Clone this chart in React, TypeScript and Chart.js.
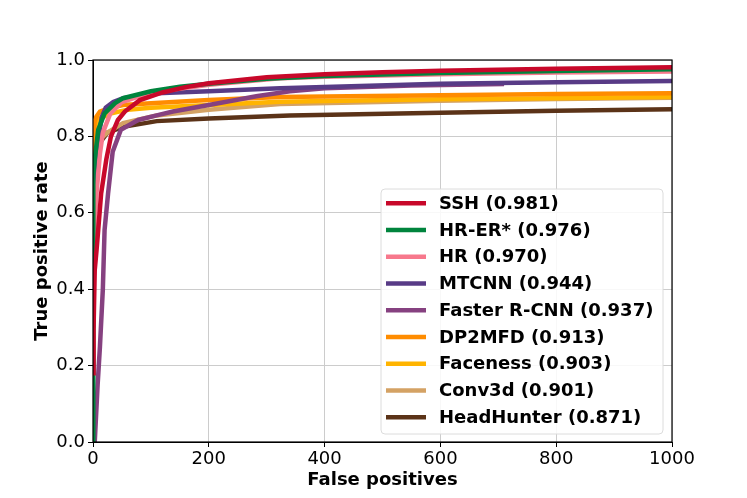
import React, { useEffect, useRef } from "react";
import { Chart, registerables } from "chart.js";
Chart.register(...registerables);

const seriesNames = ["SSH", "HR-ER*", "HR", "MTCNN", "Faster R-CNN", "DP2MFD", "Faceness", "Conv3d", "HeadHunter"];
const seriesScores = ["0.981", "0.976", "0.970", "0.944", "0.937", "0.913", "0.903", "0.901", "0.871"];
const seriesColors = ["#c8082a", "#00843d", "#f7788c", "#583b86", "#864180", "#ff8c00", "#ffb400", "#d4a264", "#5b3318"];

const sshFP = [0, 1, 3, 6, 9, 14, 23, 31, 43, 55, 81, 120, 160, 200, 300, 400, 500, 600, 800, 1000];
const sshTPR = [0.18, 0.3, 0.45, 0.5, 0.555, 0.65, 0.74, 0.8, 0.843, 0.865, 0.895, 0.915, 0.929, 0.939, 0.955, 0.963, 0.968, 0.972, 0.977, 0.981];

const hrerFP = [0, 0, 1, 3, 9, 20, 38, 52, 100, 150, 200, 300, 400, 600, 800, 1000];
const hrerTPR = [0, 0.6, 0.7, 0.74, 0.817, 0.86, 0.887, 0.9, 0.918, 0.93, 0.938, 0.951, 0.958, 0.966, 0.971, 0.976];

const hrFP = [0, 2, 6, 12, 17, 30, 50, 100, 200, 323, 400, 600, 800, 1000];
const hrTPR = [0.3, 0.55, 0.65, 0.755, 0.81, 0.86, 0.89, 0.915, 0.935, 0.952, 0.956, 0.963, 0.967, 0.97];

const mtcnnFP = [0, 3, 7, 10, 15, 22, 35, 52, 110, 200, 323, 600, 800, 1000];
const mtcnnTPR = [0.3, 0.6, 0.72, 0.8, 0.85, 0.875, 0.89, 0.9, 0.913, 0.918, 0.926, 0.938, 0.942, 0.945];

const frcnnFP = [3, 8, 12, 17, 20, 26, 34, 48, 78, 110, 138, 200, 282, 340, 400, 550, 710];
const frcnnTPR = [0, 0.15, 0.25, 0.4, 0.555, 0.65, 0.76, 0.817, 0.843, 0.855, 0.865, 0.882, 0.905, 0.918, 0.926, 0.933, 0.937];

const dp2FP = [0, 1, 3, 6, 12, 30, 52, 100, 200, 323, 600, 800, 1000];
const dp2TPR = [0.74, 0.8, 0.84, 0.852, 0.865, 0.875, 0.882, 0.887, 0.895, 0.903, 0.908, 0.911, 0.913];

const facenessFP = [0, 3, 10, 30, 60, 100, 200, 323, 600, 800, 1000];
const facenessTPR = [0.76, 0.82, 0.845, 0.86, 0.87, 0.875, 0.882, 0.891, 0.897, 0.9, 0.903];

const conv3dFP = [0, 10, 25, 52, 110, 200, 323, 600, 800, 1000];
const conv3dTPR = [0.75, 0.79, 0.81, 0.835, 0.855, 0.87, 0.885, 0.893, 0.898, 0.901];

const hhFP = [0, 10, 25, 52, 110, 200, 340, 600, 800, 1000];
const hhTPR = [0.7, 0.78, 0.81, 0.825, 0.84, 0.847, 0.855, 0.862, 0.867, 0.871];

const xTicks = [0, 200, 400, 600, 800, 1000];
const yTicks = [0, 0.2, 0.4, 0.6, 0.8, 1.0];

const allFP = [sshFP, hrerFP, hrFP, mtcnnFP, frcnnFP, dp2FP, facenessFP, conv3dFP, hhFP];
const allTPR = [sshTPR, hrerTPR, hrTPR, mtcnnTPR, frcnnTPR, dp2TPR, facenessTPR, conv3dTPR, hhTPR];

const FONT = "'DejaVu Sans', sans-serif";

export default function App() {
  const ref = useRef<HTMLCanvasElement>(null);
  useEffect(() => {
    document.body.style.margin = "0";
    const ctx = ref.current!;
    const datasets = seriesNames.map((n, i) => ({
      label: `${n} (${seriesScores[i]})`,
      data: allFP[i].map((x, j) => ({ x, y: allTPR[i][j] })),
      borderColor: seriesColors[i],
      backgroundColor: seriesColors[i],
      borderWidth: 4.5,
      pointRadius: 0,
      fill: false,
      tension: 0,
      order: i,
    }));

    const frame = {
      id: "frame",
      afterDatasetsDraw(chart: any) {
        const { ctx, chartArea: a } = chart;
        ctx.save();
        ctx.strokeStyle = "#000";
        ctx.lineWidth = 1.2;
        ctx.strokeRect(a.left, a.top, a.right - a.left, a.bottom - a.top);
        ctx.restore();
      },
      afterDraw(chart: any) {
        const { ctx } = chart;
        ctx.save();
        const bx = 381, by = 189, bw = 282, bh = 245;
        ctx.fillStyle = "rgba(255,255,255,0.85)";
        ctx.strokeStyle = "#dcdcdc";
        ctx.lineWidth = 1;
        ctx.beginPath();
        (ctx as any).roundRect(bx, by, bw, bh, 4);
        ctx.fill();
        ctx.stroke();
        ctx.font = `bold 18px ${FONT}`;
        ctx.textBaseline = "middle";
        ctx.textAlign = "left";
        seriesNames.forEach((n, i) => {
          const y = 203.3 + i * 26.75;
          ctx.strokeStyle = seriesColors[i];
          ctx.lineWidth = 4.5;
          ctx.beginPath();
          ctx.moveTo(386, y);
          ctx.lineTo(426, y);
          ctx.stroke();
          ctx.fillStyle = "#000";
          ctx.fillText(`${n} (${seriesScores[i]})`, 439, y + 1);
        });
        ctx.restore();
      },
    };

    const chart = new Chart(ctx, {
      type: "line",
      data: { datasets },
      plugins: [frame],
      options: {
        animation: false,
        responsive: false,
        maintainAspectRatio: false,
        layout: { padding: { left: 0, top: 60, right: 75, bottom: 0 } },
        plugins: { legend: { display: false }, tooltip: { enabled: false } },
        scales: {
          x: {
            type: "linear",
            min: 0,
            max: 1000,
            afterBuildTicks: (s: any) => { s.ticks = xTicks.map((v) => ({ value: v })); },
            afterFit: (s: any) => { s.height = 56; },
            ticks: { font: { family: FONT, size: 18 }, color: "#000", padding: 2, maxRotation: 0, callback: (v: any) => String(v) },
            grid: { color: "#cccccc", lineWidth: 1, tickColor: "#000", tickLength: 5 },
            border: { display: true, color: "#000" },
            title: { display: true, text: "False positives", font: { family: FONT, size: 18, weight: "bold" }, color: "#000", padding: { top: 0, bottom: 7 } },
          },
          y: {
            type: "linear",
            min: 0,
            max: 1,
            afterBuildTicks: (s: any) => { s.ticks = yTicks.map((v) => ({ value: v })); },
            afterFit: (s: any) => { s.width = 93; },
            ticks: { font: { family: FONT, size: 18 }, color: "#000", padding: 3, callback: (v: any) => Number(v).toFixed(1) },
            grid: { color: "#cccccc", lineWidth: 1, tickColor: "#000", tickLength: 5 },
            border: { display: true, color: "#000" },
            title: { display: true, text: "True positive rate", font: { family: FONT, size: 18, weight: "bold" }, color: "#000", padding: { top: 32, bottom: 0 } },
          },
        },
      },
    } as any);
    return () => chart.destroy();
  }, []);
  return <canvas ref={ref} width={747} height={498} style={{ display: "block", width: 747, height: 498 }} />;
}
